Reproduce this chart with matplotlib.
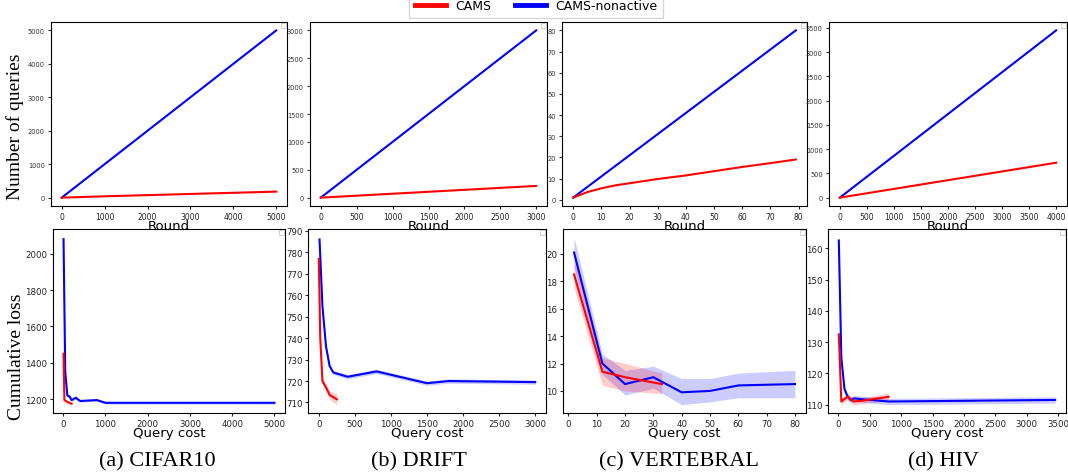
import matplotlib.pyplot as plt
from matplotlib.lines import Line2D

# ---- top row: number of queries vs round ----
cifar_round = [0, 1000, 2000, 3000, 4000, 5000]
cifar_q_cams = [0, 40, 75, 110, 145, 180]
cifar_q_nonactive = [0, 1000, 2000, 3000, 4000, 5000]

drift_round = [0, 500, 1000, 1500, 2000, 2500, 3000]
drift_q_cams = [0, 35, 70, 105, 140, 175, 210]
drift_q_nonactive = [0, 500, 1000, 1500, 2000, 2500, 3000]

vert_round = [0, 5, 10, 15, 20, 30, 40, 50, 60, 70, 79]
vert_q_cams = [1, 3.6, 5.4, 6.8, 7.8, 9.8, 11.5, 13.5, 15.5, 17.3, 19]
vert_q_nonactive = [1, 6, 11, 16, 21, 31, 41, 51, 61, 71, 80]

hiv_round = [0, 1000, 2000, 3000, 4000]
hiv_q_cams = [0, 180, 360, 540, 720]
hiv_q_nonactive = [0, 862, 1725, 2587, 3450]

# ---- bottom row: cumulative loss vs query cost (mean, lower, upper) ----
cifar_cost_cams = [10, 30, 100, 200]
cifar_loss_cams = [1450, 1195, 1185, 1175]
cifar_lo_cams = [1440, 1190, 1180, 1170]
cifar_hi_cams = [1460, 1200, 1190, 1180]
cifar_cost_non = [10, 50, 100, 150, 200, 300, 400, 800, 1000, 5000]
cifar_loss_non = [2080, 1350, 1220, 1215, 1195, 1208, 1190, 1195, 1180, 1180]
cifar_lo_non = [2070, 1342, 1213, 1208, 1188, 1201, 1183, 1188, 1173, 1173]
cifar_hi_non = [2090, 1358, 1227, 1222, 1202, 1215, 1197, 1202, 1187, 1187]

drift_cost_cams = [0, 20, 50, 100, 150, 250]
drift_loss_cams = [777, 740, 720, 717, 713.5, 711.5]
drift_lo_cams = [776, 738.5, 718.5, 715.5, 711.5, 709]
drift_hi_cams = [778, 741.5, 721.5, 718.5, 715.5, 714]
drift_cost_non = [10, 50, 100, 150, 200, 400, 800, 1500, 1800, 3000]
drift_loss_non = [786, 755, 736, 727, 724, 722, 724.5, 719, 720, 719.5]
drift_lo_non = [785, 754, 735, 726, 723, 721, 723.5, 718, 719, 718.5]
drift_hi_non = [787, 756, 737, 728, 725, 723, 725.5, 720, 721, 720.5]

vert_cost_cams = [2, 12, 20, 33]
vert_loss_cams = [18.5, 11.4, 11.0, 10.5]
vert_lo_cams = [17.5, 10.4, 10.0, 9.8]
vert_hi_cams = [19.5, 12.4, 12.0, 11.3]
vert_cost_non = [2, 12, 20, 30, 40, 50, 60, 80]
vert_loss_non = [20.1, 12.0, 10.5, 11.0, 9.9, 10.0, 10.4, 10.5]
vert_lo_non = [19.0, 11.2, 9.7, 10.2, 9.0, 9.2, 9.5, 9.5]
vert_hi_non = [21.2, 12.7, 11.5, 11.8, 10.9, 10.9, 11.3, 11.5]

hiv_cost_cams = [10, 50, 100, 150, 250, 400, 800]
hiv_loss_cams = [132.5, 111, 111.8, 112.5, 111, 111.3, 112.5]
hiv_lo_cams = [131.5, 110, 110.8, 111.5, 110, 110.3, 111.3]
hiv_hi_cams = [133.5, 112, 112.8, 113.5, 112, 112.3, 113.7]
hiv_cost_non = [10, 50, 100, 150, 200, 250, 400, 800, 3450]
hiv_loss_non = [162.5, 125, 115, 112.5, 111.5, 112, 111.7, 111, 111.5]
hiv_lo_non = [161.5, 124, 114, 111.5, 110.5, 111, 110.7, 110, 110.5]
hiv_hi_non = [163.5, 126, 116, 113.5, 112.5, 113, 112.7, 112, 112.5]

captions = ["(a) CIFAR10", "(b) DRIFT", "(c) VERTEBRAL", "(d) HIV"]
caption_x = [157, 419, 679, 944]

W, H = 1068, 477
fig = plt.figure(figsize=(W / 100, H / 100), dpi=100)


def px_axes(x0, x1, y0, y1):
    return fig.add_axes([x0 / W, (H - y1) / H, (x1 - x0) / W, (y1 - y0) / H])


top_cols = [(51, 287), (310, 547), (562, 807), (829, 1067)]
bot_cols = [(53, 285), (308, 546), (563, 806), (828, 1066)]

top_data = [
    (cifar_round, cifar_q_cams, cifar_q_nonactive),
    (drift_round, drift_q_cams, drift_q_nonactive),
    (vert_round, vert_q_cams, vert_q_nonactive),
    (hiv_round, hiv_q_cams, hiv_q_nonactive),
]
bot_data = [
    (cifar_cost_cams, cifar_loss_cams, cifar_lo_cams, cifar_hi_cams,
     cifar_cost_non, cifar_loss_non, cifar_lo_non, cifar_hi_non),
    (drift_cost_cams, drift_loss_cams, drift_lo_cams, drift_hi_cams,
     drift_cost_non, drift_loss_non, drift_lo_non, drift_hi_non),
    (vert_cost_cams, vert_loss_cams, vert_lo_cams, vert_hi_cams,
     vert_cost_non, vert_loss_non, vert_lo_non, vert_hi_non),
    (hiv_cost_cams, hiv_loss_cams, hiv_lo_cams, hiv_hi_cams,
     hiv_cost_non, hiv_loss_non, hiv_lo_non, hiv_hi_non),
]


def empty_legend(ax):
    leg = ax.legend(handles=[], loc="upper right", fontsize=5, borderpad=0.3,
                    borderaxespad=0.2, fancybox=False)
    leg.get_frame().set_edgecolor("#bbbbbb")
    leg.get_frame().set_linewidth(0.6)


for i in range(4):
    # top row
    ax = px_axes(top_cols[i][0], top_cols[i][1], 23, 207)
    r, qc, qn = top_data[i]
    ax.plot(r, qn, color="blue", lw=1.5)
    ax.plot(r, qc, color="red", lw=1.5)
    ax.tick_params(axis="y", labelsize=4.8, colors="#333333", length=2.5, pad=2)
    ax.tick_params(axis="x", labelsize=5.5, colors="#222222", length=2.5, pad=1.5)
    ax.set_xlabel("Round", fontsize=9.5, labelpad=-1)
    empty_legend(ax)

    # bottom row
    ax = px_axes(bot_cols[i][0], bot_cols[i][1], 230, 414)
    xc, yc, lc, hc, xn, yn, ln, hn = bot_data[i]
    ax.fill_between(xn, ln, hn, color="blue", alpha=0.2, lw=0)
    ax.fill_between(xc, lc, hc, color="red", alpha=0.2, lw=0)
    ax.plot(xn, yn, color="blue", lw=1.5)
    ax.plot(xc, yc, color="red", lw=1.5)
    ax.tick_params(axis="both", labelsize=6.2, colors="#222222", length=2.5, pad=1.5)
    ax.set_xlabel("Query cost", fontsize=9.5, labelpad=-1)
    empty_legend(ax)

    fig.text(caption_x[i] / W, 1 - 462 / H, captions[i], family="Liberation Serif",
             fontsize=16, ha="center", va="center")

fig.text(15 / W, 1 - 127 / H, "Number of queries", family="Liberation Serif",
         fontsize=14, rotation=90, ha="center", va="center")
fig.text(17 / W, 1 - 357 / H, "Cumulative loss", family="Liberation Serif",
         fontsize=14, rotation=90, ha="center", va="center")

handles = [Line2D([], [], color="red", lw=3.5), Line2D([], [], color="blue", lw=3.5)]
fig.legend(handles, ["CAMS", "CAMS-nonactive"], loc="upper center",
           bbox_to_anchor=(536 / W, 1.012), ncol=2, fontsize=9, frameon=True,
           handlelength=2.5, handletextpad=0.7, borderpad=0.45, borderaxespad=0,
           columnspacing=1.9, fancybox=False, edgecolor="#cccccc")

fig.savefig("out.png", dpi=100)
